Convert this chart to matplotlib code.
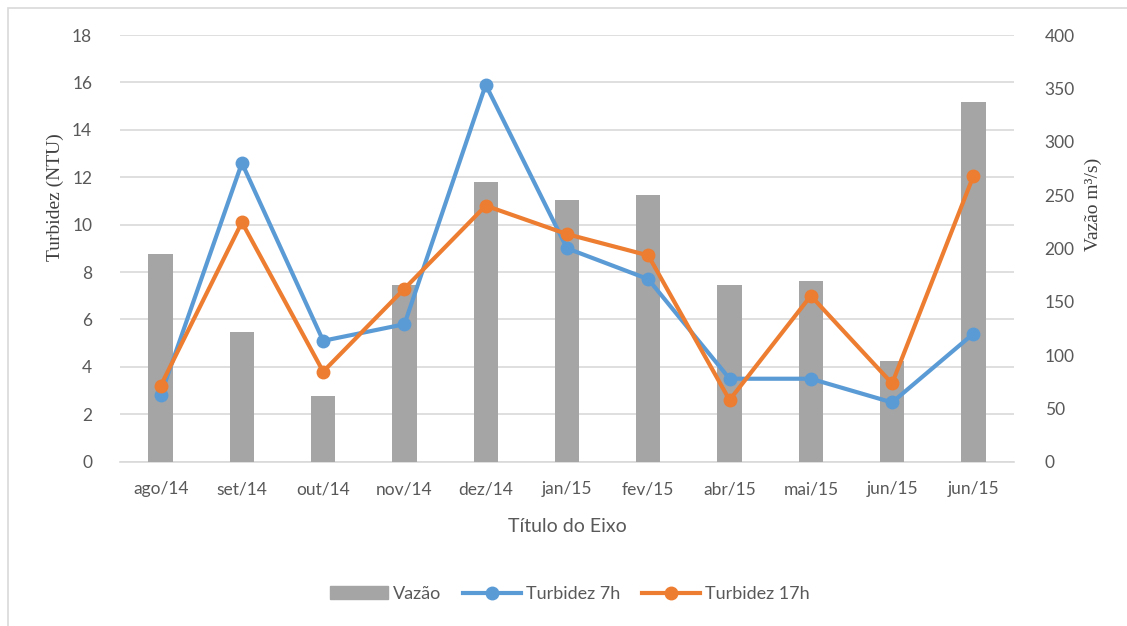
import matplotlib
matplotlib.use("Agg")
import matplotlib.pyplot as plt
from matplotlib.patches import Rectangle
import numpy as np

categories = ["ago/14", "set/14", "out/14", "nov/14", "dez/14", "jan/15",
              "fev/15", "abr/15", "mai/15", "jun/15", "jun/15"]
vazao = [195, 122, 62, 166, 262, 245, 250, 166, 169, 94, 337]
turb_7h = [2.8, 12.6, 5.1, 5.8, 15.9, 9.0, 7.7, 3.5, 3.5, 2.5, 5.4]
turb_17h = [3.2, 10.1, 3.8, 7.3, 10.8, 9.6, 8.7, 2.6, 7.0, 3.3, 12.05]

W, H = 1127, 626
fig = plt.figure(figsize=(W / 100, H / 100), dpi=100)

# chart area border
fig.patches.append(Rectangle((8 / W, -0.01), 1.2, 1 - 8 / H + 0.01,
                             transform=fig.transFigure, fill=False,
                             edgecolor="#D9D9D9", linewidth=1.2))

left, right = 120 / W, 1014 / W
top, bottom = 1 - 35 / H, 1 - 461.7 / H
axG = fig.add_axes([left, bottom, right - left, top - bottom])  # grid + left ticks
axB = axG.twinx()   # bars, right scale
axL = axG.twinx()   # lines, left scale
axB.set_zorder(1)
axL.set_zorder(2)
axB.patch.set_visible(False)
axL.patch.set_visible(False)

x = np.arange(len(categories))
tick_color = "#595959"
font = "Lato"

# grid + left axis
axG.set_ylim(0, 18)
axG.set_yticks(np.arange(0, 19, 2))
axG.grid(axis="y", color="#D9D9D9", linewidth=1.2)
axG.set_xlim(-0.5, len(categories) - 0.5)
axG.set_xticks(x)
axG.set_xticklabels(categories, fontsize=12.5, color=tick_color, family=font)
axG.tick_params(axis="x", length=0, pad=14)
axG.tick_params(axis="y", length=0, pad=20, labelsize=12.5, labelcolor=tick_color)

# bars (right axis scale)
axB.bar(x, vazao, width=0.3, color="#A5A5A5", label="Vazão")
axB.set_ylim(0, 400)
axB.set_yticks(np.arange(0, 401, 50))
axB.tick_params(axis="y", length=0, pad=22, labelsize=12.5, labelcolor=tick_color)

# lines (left axis scale)
axL.plot(x, turb_7h, color="#5B9BD5", linewidth=3, marker="o",
         markersize=9, label="Turbidez 7h")
axL.plot(x, turb_17h, color="#ED7D31", linewidth=3, marker="o",
         markersize=9, label="Turbidez 17h")
axL.set_ylim(0, 18)
axL.set_yticks([])

for lab in axG.get_yticklabels() + axB.get_yticklabels():
    lab.set_family(font)

for a in (axG, axB, axL):
    for s in a.spines.values():
        s.set_visible(False)
axG.spines["bottom"].set_visible(True)
axG.spines["bottom"].set_color("#D9D9D9")
axG.spines["bottom"].set_linewidth(1.2)

# axis titles
fig.text(55 / W, 1 - 197 / H, "Turbidez (NTU)", rotation=90, ha="center",
         va="center", fontsize=14, family="Liberation Serif", color="#404040")
fig.text(1093 / W, 1 - 204 / H, "Vazão m³/s)", rotation=90, ha="center",
         va="center", fontsize=14, family="Liberation Serif", color="#404040")
fig.text(567 / W, 1 - 527 / H, "Título do Eixo", ha="center", va="center",
         fontsize=14, family=font, color=tick_color)

# legend
h_bar = Rectangle((0, 0), 1, 1, color="#A5A5A5")
h1, h2 = axL.get_lines()
leg = fig.legend([h_bar, h1, h2], ["Vazão", "Turbidez 7h", "Turbidez 17h"],
                 loc="center", bbox_to_anchor=(570 / W, 1 - 594 / H), ncol=3,
                 frameon=False, handlelength=3.2, handletextpad=0.3,
                 columnspacing=1.2,
                 prop={"family": font, "size": 13})
for t in leg.get_texts():
    t.set_color(tick_color)

fig.savefig("out.png", dpi=100)
